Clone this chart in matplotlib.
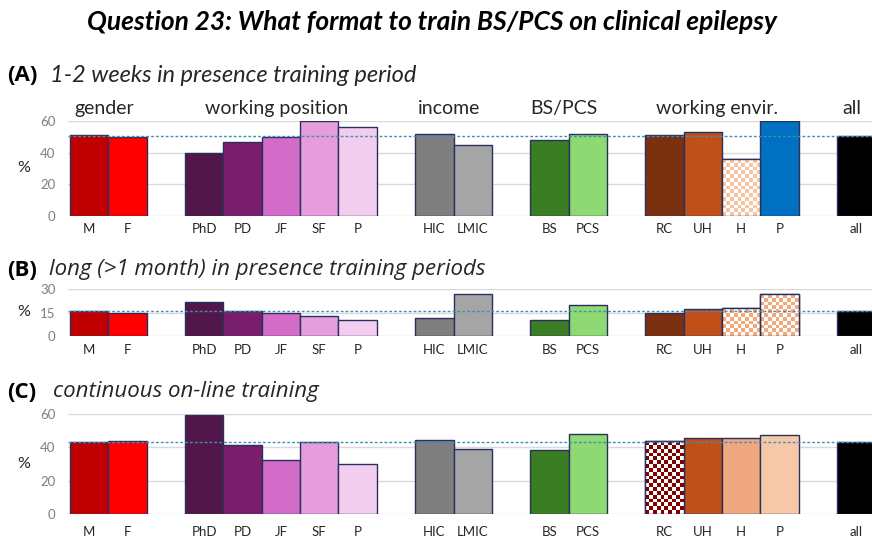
import numpy as np
import matplotlib
matplotlib.use("Agg")
import matplotlib.pyplot as plt
from matplotlib.colors import to_rgb

# ---------------- data ----------------
groups = ["gender", "working position", "income", "BS/PCS", "working envir.", "all"]
group_cats = [["M", "F"], ["PhD", "PD", "JF", "SF", "P"], ["HIC", "LMIC"],
              ["BS", "PCS"], ["RC", "UH", "H", "P"], ["all"]]

vals_a = [51, 50, 40, 47, 50, 60, 56, 52, 45, 48, 52, 51, 53, 36, 60, 50.4]
vals_b = [16, 14.5, 21.5, 16, 15, 13, 10, 11.3, 26.5, 10, 20, 15, 17, 18, 27, 16.2]
vals_c = [42.8, 43.5, 59.5, 41, 32.5, 43, 30, 44.3, 38.7, 38, 47.8, 43.5, 45.5, 45.5, 47, 42.9]

base_colors = ["#C00000", "#FF0000", "#52174A", "#7A1E6C", "#D36CC8", "#E59DDB",
               "#F3CDEE", "#7F7F7F", "#A5A5A5", "#3B7D23", "#8ED973",
               "#7B3010", "#C0501A", "#F7C3A0", "#0070C0", "#000000"]
colors_a = base_colors
colors_b = base_colors[:13] + ["#F5A878", "#F5A878", "#000000"]
colors_c = base_colors[:11] + ["#800000", "#C0501A", "#F0A880", "#F7C8A8", "#000000"]

checker_a = [13]
checker_b = [13, 14]
checker_c = [11]

titles = ["Question 23: What format to train BS/PCS on clinical epilepsy"]
panel_labels = ["(A)", "(B)", "(C)"]
panel_texts = ["1-2 weeks in presence training period",
               "long (>1 month) in presence training periods",
               "continuous on-line training"]
yticks_a = [0, 20, 40, 60]
yticks_b = [0, 15, 30]
yticks_c = [0, 20, 40, 60]

# ---------------- layout ----------------
W, H = 872, 538
fig = plt.figure(figsize=(W / 100, H / 100), dpi=100)
FONT = "Lato"
EDGE = "#27305E"

# slot positions (one empty slot between groups)
positions, labels, group_centers = [], [], []
p = 0
for cats in group_cats:
    start = p
    for c in cats:
        positions.append(p)
        labels.append(c)
        p += 1
    group_centers.append((start + p - 1) / 2)
    p += 1
positions = np.array(positions, dtype=float)

slot_px = 38.35
x_left_px = 68
xlim = (-0.5 - 2 / slot_px, -0.5 + (W - 70) / slot_px)


def px(x, y):
    return x / W, 1 - y / H


def panel(ytop, y0, ymax, yticks, vals, colors, checkers, tickpad):
    ax = fig.add_axes([x_left_px / W, (H - y0) / H, (W - x_left_px) / W, (y0 - ytop) / H])
    ax.set_xlim(*xlim)
    ax.set_ylim(0, ymax)
    for s in ax.spines.values():
        s.set_visible(False)
    ax.set_yticks(yticks)
    ax.set_yticklabels([str(t) for t in yticks], fontsize=9.5, color="#7F7F7F", family=FONT)
    ax.tick_params(axis="y", length=0, pad=9)
    ax.set_xticks(positions)
    ax.set_xticklabels(labels, fontsize=9.5, color="#262626", family=FONT)
    ax.tick_params(axis="x", length=0, pad=tickpad)
    ax.grid(axis="y", color="#D9D9D9", lw=1)
    ax.set_axisbelow(True)
    bars = ax.bar(positions, vals, width=1.0, color=colors, edgecolor=EDGE, lw=1.0, zorder=2)
    ppu_y = (y0 - ytop) / ymax
    cell = 3.8
    for i in checkers:
        b = bars[i]
        col = np.array(to_rgb(colors[i]))
        b.set_facecolor("white")
        w_px = b.get_width() * slot_px
        h_px = b.get_height() * ppu_y
        nx = max(1, int(round(w_px / cell)))
        ny = max(1, int(round(h_px / cell)))
        img = np.ones((ny, nx, 3))
        jj, ii = np.meshgrid(np.arange(nx), np.arange(ny))
        img[(ii + jj) % 2 == 0] = col
        im = ax.imshow(img, extent=(b.get_x(), b.get_x() + b.get_width(), 0, ny * cell / ppu_y),
                       origin="lower", interpolation="nearest", aspect="auto", zorder=2.5)
        im.set_clip_path(b)
        ax.bar([b.get_x() + b.get_width() / 2], [b.get_height()], width=b.get_width(),
               facecolor="none", edgecolor=EDGE, lw=1.0, zorder=3)
    ax.set_xlim(*xlim)
    ax.set_ylim(0, ymax)
    ax.axhline(vals[-1], color="#3F8FB5", lw=1.0, ls=(0, (2, 1.5)), zorder=4)
    fig.text(*px(24, (ytop + y0) / 2), "%", fontsize=11.5, color="#262626", family=FONT,
             ha="center", va="center")
    return ax


ax_a = panel(121, 216, 60, yticks_a, vals_a, colors_a, checker_a, 5)
ax_b = panel(289, 336, 30, yticks_b, vals_b, colors_b, checker_b, 6)
ax_c = panel(413.7, 514, 60, yticks_c, vals_c, colors_c, checker_c, 9)

# group headers above panel A
for g, gc in zip(groups, group_centers):
    ax_a.text(gc - 0.12, 1.0 + 4 / 95, g, transform=ax_a.get_xaxis_transform(), fontsize=14,
              color="#262626", family=FONT, ha="center", va="bottom")

# Title
fig.text(*px(432, 22), titles[0], fontsize=19, fontweight="bold", fontstyle="italic",
         family=FONT, ha="center", va="center", color="black")

# panel headings
head_y = [75, 270, 392]
text_x = [50, 49, 53]
fams = [FONT, "Open Sans", "Open Sans"]
sizes = [17, 16, 16]
for lab, txt, yy, tx, fam, sz in zip(panel_labels, panel_texts, head_y, text_x, fams, sizes):
    fig.text(*px(7, yy), lab, fontsize=16, fontweight="bold", family="Open Sans",
             ha="left", va="center", color="black")
    fig.text(*px(tx, yy), txt, fontsize=sz, fontstyle="italic", family=fam,
             ha="left", va="center", color="#262626")

fig.savefig("out.png", dpi=100)
